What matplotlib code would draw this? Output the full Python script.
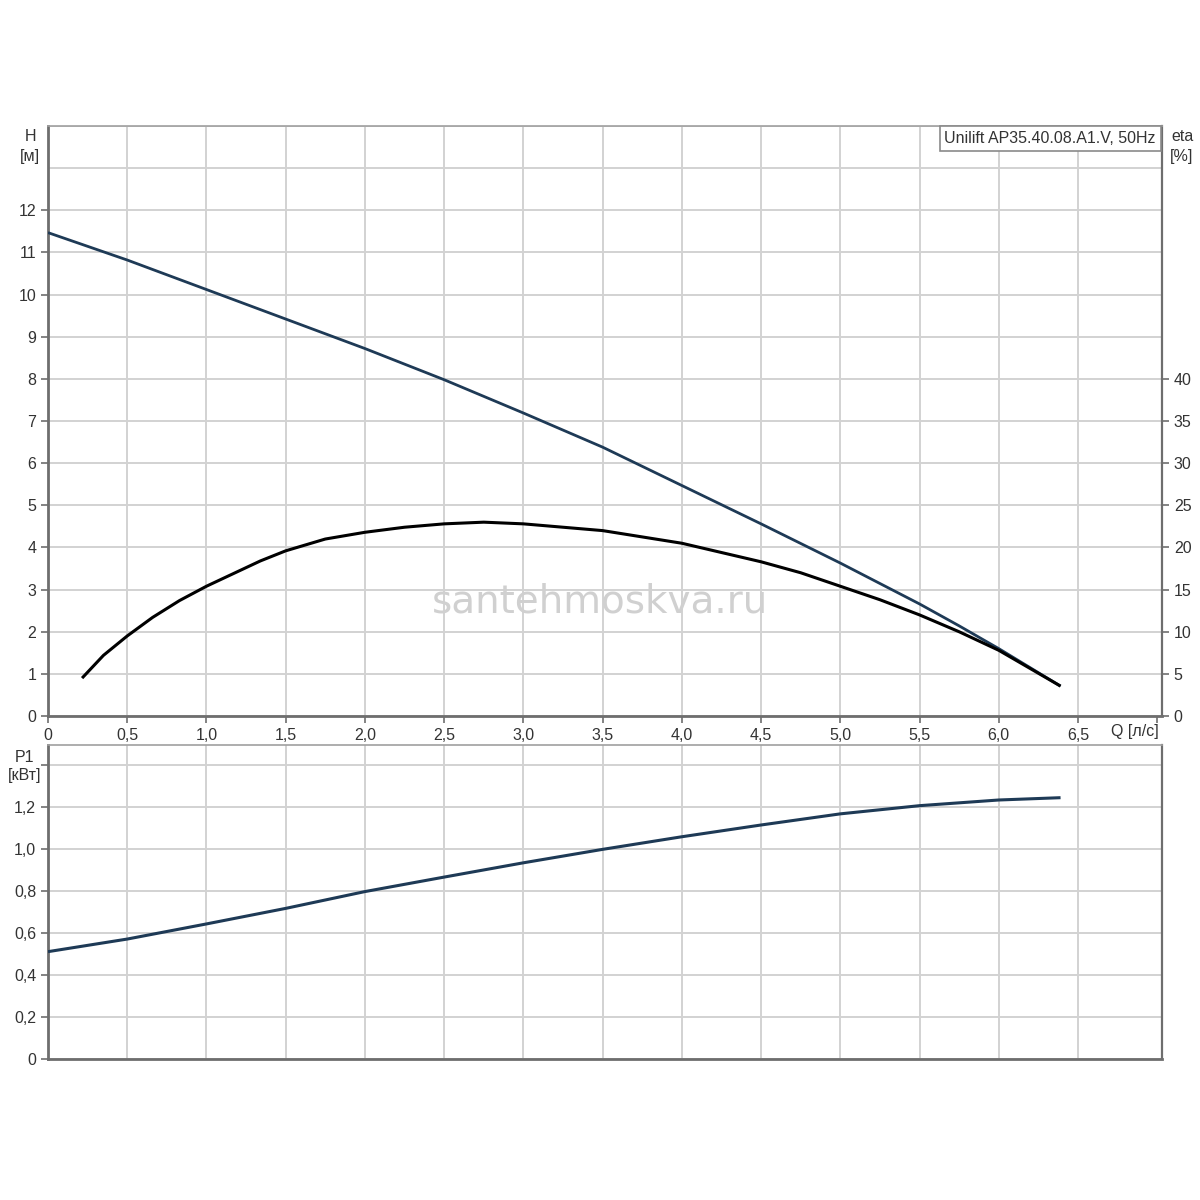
#!/usr/bin/env python3
import matplotlib
matplotlib.use("Agg")
import matplotlib.pyplot as plt
from matplotlib.ticker import FixedLocator

# head curve H [m]
q_h = [0, 0.5, 1.0, 1.5, 2.0, 2.5, 3.0, 3.5, 4.0, 4.5, 5.0, 5.5, 5.75, 6.0, 6.39]
head = [11.47, 10.82, 10.12, 9.42, 8.72, 7.98, 7.19, 6.38, 5.47, 4.56, 3.63, 2.66, 2.14, 1.60, 0.71]

# efficiency eta [%]
q_eta = [0.215, 0.35, 0.5, 0.66, 0.83, 1.0, 1.17, 1.34, 1.5, 1.75, 2.0, 2.25, 2.5, 2.75,
         3.0, 3.5, 4.0, 4.5, 4.75, 5.0, 5.25, 5.5, 5.75, 6.0, 6.39]
eta = [4.5, 7.2, 9.5, 11.7, 13.7, 15.4, 16.9, 18.4, 19.6, 21.0, 21.8, 22.4, 22.8, 23.0,
       22.8, 22.0, 20.5, 18.3, 17.0, 15.4, 13.8, 12.0, 10.0, 7.8, 3.55]

# power P1 [kW]
q_p = [0, 0.5, 1.0, 1.5, 2.0, 2.5, 3.0, 3.5, 4.0, 4.5, 5.0, 5.5, 6.0, 6.39]
power = [0.511, 0.571, 0.643, 0.717, 0.797, 0.866, 0.934, 0.998, 1.058, 1.114, 1.167, 1.206, 1.233, 1.244]

q_ticks = [i * 0.5 for i in range(15)]
q_labels = [("0" if v == 0 else f"{v:.1f}".replace(".", ",")) for v in q_ticks[:-1]] + [""]
h_ticks = list(range(0, 13))
eta_ticks = list(range(0, 45, 5))
p_ticks = [0, 0.2, 0.4, 0.6, 0.8, 1.0, 1.2, 1.4]
p_labels = ["0", "0,2", "0,4", "0,6", "0,8", "1,0", "1,2", ""]

title = "Unilift AP35.40.08.A1.V, 50Hz"

blue = "#1e3a56"
grid_c = "#d2d2d2"
spine_c = "#6e6e6e"
txt_c = "#333333"
fs = 11.5

plt.rcParams["font.family"] = ["Liberation Sans", "DejaVu Sans"]

fig = plt.figure(figsize=(12, 12), dpi=100)
ax = fig.add_axes([0.04, 0.4033, 0.9283, 0.4917])
ax2 = ax.twinx()
axp = fig.add_axes([0.04, 0.1175, 0.9283, 0.2617])

for a in (ax, axp):
    a.set_xlim(0, 7.03)
    a.xaxis.remove_overlapping_locs = False
    a.yaxis.remove_overlapping_locs = False
    a.xaxis.set_minor_locator(FixedLocator(q_ticks[:-1]))
    a.grid(True, which="minor", color=grid_c, lw=1.4)
    a.set_axisbelow(True)
    for s in a.spines.values():
        s.set_color("#a0a0a0")
        s.set_linewidth(1.2)
    a.spines["left"].set_color(spine_c)
    a.spines["left"].set_linewidth(2)
    a.spines["bottom"].set_color(spine_c)
    a.spines["bottom"].set_linewidth(2)
    a.spines["right"].set_color(spine_c)
    a.spines["right"].set_linewidth(1.6)

# top panel
ax.set_ylim(0, 14)
ax.yaxis.set_minor_locator(FixedLocator(list(range(15))))
ax.set_xticks(q_ticks)
ax.set_xticklabels(q_labels)
ax.set_yticks(h_ticks)
ax.set_yticklabels([str(v) for v in h_ticks])
ax.tick_params(axis="both", which="major", direction="out", length=5, width=1.2,
               color=spine_c, labelsize=fs, labelcolor=txt_c)
ax.tick_params(which="minor", length=0)
ax.plot(q_h, head, color=blue, lw=2.0, solid_capstyle="butt", zorder=3)

ax2.set_ylim(0, 70)
ax2.set_yticks(eta_ticks)
ax2.set_yticklabels([str(v) for v in eta_ticks])
ax2.tick_params(axis="y", direction="out", length=5, width=1.2, color=spine_c,
                labelsize=fs, labelcolor=txt_c)
for s in ax2.spines.values():
    s.set_visible(False)
ax2.plot(q_eta, eta, color="black", lw=2.2, solid_capstyle="butt", zorder=3)

ax.text(-0.016, 0.995, "H\n[м]", transform=ax.transAxes, ha="center", va="top",
        fontsize=fs, color=txt_c, linespacing=1.4)
ax.text(1.018, 0.995, "eta\n[%]", transform=ax.transAxes, ha="center", va="top",
        fontsize=fs, color=txt_c, linespacing=1.4)
ax.text(0.997, -0.027, "Q [л/с]", transform=ax.transAxes, ha="right", va="center",
        fontsize=fs, color=txt_c)
ax.text(0.9945, 0.9915, title, transform=ax.transAxes, ha="right", va="top",
        fontsize=fs, color=txt_c, zorder=5,
        bbox=dict(boxstyle="square,pad=0.3", fc="white", ec="#8a8a8a", lw=1.2))

# bottom panel
axp.set_ylim(0, 1.495)
axp.yaxis.set_minor_locator(FixedLocator(p_ticks))
axp.set_yticks(p_ticks)
axp.set_yticklabels(p_labels)
axp.set_xticks([])
axp.tick_params(axis="y", which="major", direction="out", length=5, width=1.2,
                color=spine_c, labelsize=fs, labelcolor=txt_c)
axp.tick_params(which="minor", length=0)
axp.plot(q_p, power, color=blue, lw=2.2, solid_capstyle="butt", zorder=3)
axp.text(-0.021, 0.985, "P1\n[кВт]", transform=axp.transAxes, ha="center", va="top",
         fontsize=fs, color=txt_c, linespacing=1.3)

# watermark
fig.text(0.5, 0.499, "santehmoskva.ru", ha="center", va="center", fontsize=28,
         family="DejaVu Sans", color="#d0d0d0", zorder=10)

fig.savefig("out.png", dpi=100, facecolor="white")
